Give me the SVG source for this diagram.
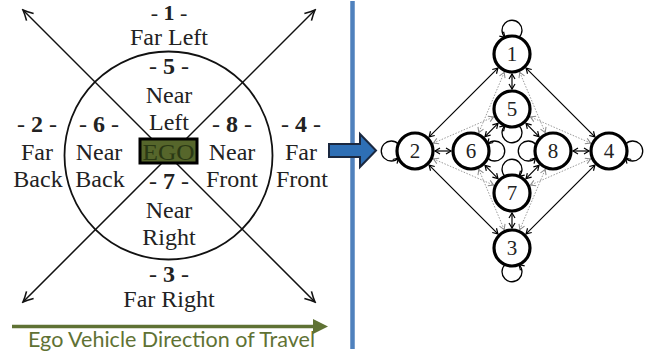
<svg xmlns="http://www.w3.org/2000/svg" width="651" height="355" viewBox="0 0 651 355">
<defs>
<style>
.lbl{font-family:"Liberation Serif","DejaVu Serif",serif;font-size:24px;fill:#222;text-anchor:middle}
.num{font-weight:bold}
.nd{fill:#fff;stroke:#000;stroke-width:3.2}
.nt{font-family:"Liberation Serif","DejaVu Serif",serif;font-size:21px;fill:#222;text-anchor:middle}
.e{stroke:#000;stroke-width:1.2;fill:none;marker-start:url(#ah);marker-end:url(#ah)}
.d{stroke:#9a9a9a;stroke-width:1;stroke-dasharray:1.5 1.5;fill:none;marker-start:url(#ahg);marker-end:url(#ahg)}
.lp{stroke:#000;stroke-width:1.3;fill:none;marker-end:url(#ah)}
.big{stroke:#111;stroke-width:1.5;fill:none;marker-start:url(#bah);marker-end:url(#bah)}
</style>
<marker id="ah" viewBox="-8 -5 10 10" refX="0" refY="0" markerWidth="10" markerHeight="10" markerUnits="userSpaceOnUse" orient="auto-start-reverse"><path d="M-5,-3 L0,0 L-5,3" fill="none" stroke="#000" stroke-width="1.2"/></marker>
<marker id="ahg" viewBox="-8 -5 10 10" refX="0" refY="0" markerWidth="10" markerHeight="10" markerUnits="userSpaceOnUse" orient="auto-start-reverse"><path d="M-5,-3 L0,0 L-5,3" fill="none" stroke="#888" stroke-width="1"/></marker>
<marker id="bah" viewBox="-12 -7 14 14" refX="0" refY="0" markerWidth="14" markerHeight="14" markerUnits="userSpaceOnUse" orient="auto-start-reverse"><path d="M-10,-5 Q-4,-1.5 0,0 Q-4,1.5 -10,5" fill="none" stroke="#111" stroke-width="1.6"/></marker>
</defs>
<rect width="651" height="355" fill="#fff"/>

<g id="left-diagram">
<circle cx="168.5" cy="155.5" r="104" fill="none" stroke="#111" stroke-width="1.8"/>
<line class="big" x1="23" y1="10" x2="315" y2="302"/>
<line class="big" x1="315" y1="10" x2="23" y2="302"/>
<g id="ego">
<rect x="140" y="139" width="57" height="24" fill="#56662b" stroke="#000" stroke-width="3"/>
<text x="168.5" y="159.5" textLength="52" lengthAdjust="spacingAndGlyphs" style="font-family:'Liberation Serif',serif;font-size:23px;fill:#2a3814;text-anchor:middle">EGO</text>
</g>
<g id="zone1"><text class="lbl" x="169" y="20" style="font-size:22px">- <tspan class="num">1</tspan> -</text><text class="lbl" x="169" y="45">Far Left</text></g>
<g id="zone5"><text class="lbl" x="169" y="74">- <tspan class="num">5</tspan> -</text><text class="lbl" x="169" y="103">Near</text><text class="lbl" x="169" y="130">Left</text></g>
<g id="zone2"><text class="lbl" x="37" y="132">- <tspan class="num">2</tspan> -</text><text class="lbl" x="37" y="160">Far</text><text class="lbl" x="38" y="187">Back</text></g>
<g id="zone6"><text class="lbl" x="99" y="132">- <tspan class="num">6</tspan> -</text><text class="lbl" x="99" y="160">Near</text><text class="lbl" x="100" y="187">Back</text></g>
<g id="zone8"><text class="lbl" x="232" y="132">- <tspan class="num">8</tspan> -</text><text class="lbl" x="232" y="160">Near</text><text class="lbl" x="232" y="187">Front</text></g>
<g id="zone4"><text class="lbl" x="301" y="132">- <tspan class="num">4</tspan> -</text><text class="lbl" x="301" y="160">Far</text><text class="lbl" x="302" y="187">Front</text></g>
<g id="zone7"><text class="lbl" x="169" y="189">- <tspan class="num">7</tspan> -</text><text class="lbl" x="169" y="218">Near</text><text class="lbl" x="169" y="245">Right</text></g>
<g id="zone3"><text class="lbl" x="169" y="282">- <tspan class="num">3</tspan> -</text><text class="lbl" x="169" y="307">Far Right</text></g>
<g id="travel">
<line x1="12" y1="326.5" x2="316" y2="326.5" stroke="#5f7234" stroke-width="3.6"/>
<polygon points="313,319 328,326.5 313,334" fill="#5f7234"/>
<text x="28" y="347" textLength="287" lengthAdjust="spacingAndGlyphs" style="font-family:Lato,'Open Sans',sans-serif;font-size:21px;fill:#5f7234">Ego Vehicle Direction of Travel</text>
</g>
</g>

<g id="divider">
<line x1="352.5" y1="1" x2="352.5" y2="349" stroke="#4f81bd" stroke-width="4.5"/>
<polygon points="329,144 360,144 360,134 376,150.5 360,167 360,157 329,157" fill="#2e6fb5" stroke="#1a2840" stroke-width="2"/>
</g>

<g id="connectors">
<line class="d" x1="504.2" y1="72.4" x2="478.8" y2="132.6"/>
<line class="d" x1="519.8" y1="72.4" x2="545.2" y2="132.6"/>
<line class="d" x1="504.2" y1="229.6" x2="478.8" y2="169.4"/>
<line class="d" x1="519.8" y1="229.6" x2="545.2" y2="169.4"/>
<line class="d" x1="433.4" y1="143.1" x2="493.6" y2="116.9"/>
<line class="d" x1="433.4" y1="158.9" x2="493.6" y2="185.1"/>
<line class="d" x1="590.6" y1="143.1" x2="530.4" y2="116.9"/>
<line class="d" x1="590.6" y1="158.9" x2="530.4" y2="185.1"/>
<line class="e" x1="497.9" y1="68.1" x2="429.1" y2="136.9"/>
<line class="e" x1="526.1" y1="68.1" x2="594.9" y2="136.9"/>
<line class="e" x1="497.9" y1="233.9" x2="429.1" y2="165.1"/>
<line class="e" x1="526.1" y1="233.9" x2="594.9" y2="165.1"/>
<line class="e" x1="512" y1="74" x2="512" y2="89"/>
<line class="e" x1="512" y1="213" x2="512" y2="228"/>
<line class="e" x1="435" y1="151" x2="451" y2="151"/>
<line class="e" x1="573" y1="151" x2="589" y2="151"/>
<line class="e" x1="498" y1="123.3" x2="485" y2="136.7"/>
<line class="e" x1="526" y1="123.3" x2="539" y2="136.7"/>
<line class="e" x1="498" y1="178.7" x2="485" y2="165.3"/>
<line class="e" x1="526" y1="178.7" x2="539" y2="165.3"/>
<path class="lp" d="M519,37.4 A10,10 0 1,0 505,37.4"/>
<path class="lp" d="M505,264.6 A10,10 0 1,0 519,264.6"/>
<path class="lp" d="M398.4,144 A10,10 0 1,0 398.4,158"/>
<path class="lp" d="M625.6,144 A10,10 0 1,1 625.6,158"/>
<path class="lp" d="M519,125.6 A10,10 0 1,1 505,125.6"/>
<path class="lp" d="M505,176.4 A10,10 0 1,1 519,176.4"/>
<path class="lp" d="M487.6,158 A10,10 0 1,0 487.6,144"/>
<path class="lp" d="M535.4,144 A10,10 0 1,0 535.4,158"/>
</g>

<g id="n1"><circle class="nd" cx="512" cy="54" r="18"/><text class="nt" x="512" y="61">1</text></g>
<g id="n5"><circle class="nd" cx="512" cy="109" r="18"/><text class="nt" x="512" y="116">5</text></g>
<g id="n2"><circle class="nd" cx="415" cy="151" r="18"/><text class="nt" x="415" y="158">2</text></g>
<g id="n6"><circle class="nd" cx="471" cy="151" r="18"/><text class="nt" x="471" y="158">6</text></g>
<g id="n8"><circle class="nd" cx="553" cy="151" r="18"/><text class="nt" x="553" y="158">8</text></g>
<g id="n4"><circle class="nd" cx="609" cy="151" r="18"/><text class="nt" x="609" y="158">4</text></g>
<g id="n7"><circle class="nd" cx="512" cy="193" r="18"/><text class="nt" x="512" y="200">7</text></g>
<g id="n3"><circle class="nd" cx="512" cy="248" r="18"/><text class="nt" x="512" y="255">3</text></g>
</svg>
